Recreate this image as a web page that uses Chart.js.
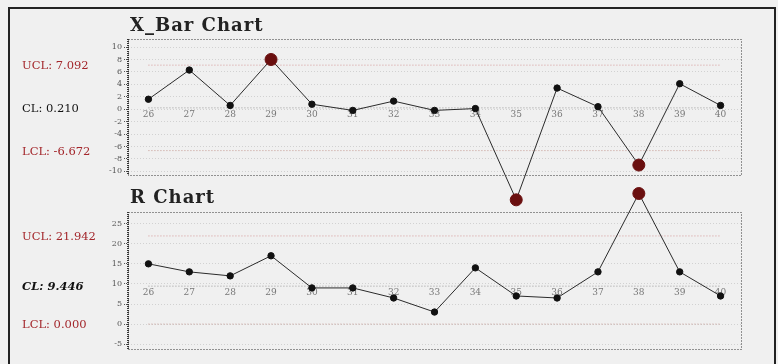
<!DOCTYPE html>
<html>
<head>
<meta charset="utf-8">
<script src="https://cdn.jsdelivr.net/npm/chart.js@4"></script>
<style>
  html, body { margin: 0; padding: 0; background: #f0f0f0; }
  body { width: 778px; height: 364px; position: relative; overflow: hidden; }
  #frame { position: absolute; left: 8px; top: 7px; width: 768px; height: 400px; border: 2px solid #222; box-sizing: border-box; }
  canvas { position: absolute; left: 0; }
  #xbar { top: 0; }
  #range { top: 180px; }
</style>
</head>
<body>
<div id="frame"></div>
<canvas id="xbar" width="778" height="214"></canvas>
<canvas id="range" width="778" height="184"></canvas>
<script>
// subgroups 26..40
var samples = ['26', '27', '28', '29', '30', '31', '32', '33', '34', '35', '36', '37', '38', '39', '40'];

// subgroup means
var xbarValues = [1.6, 6.3, 0.6, 8.0, 0.8, -0.2, 1.3, -0.2, 0.1, -14.6, 3.4, 0.4, -9.0, 4.1, 0.6];
var xbarLimits = [7.092, 0.210, -6.672];   // UCL, CL, LCL
var xbarTicks = [10, 8, 6, 4, 2, 0, -2, -4, -6, -8, -10];

// subgroup ranges
var rangeValues = [15, 13, 12, 17, 9, 9, 6.5, 3, 14, 7, 6.5, 13, 32.5, 13, 7];
var rangeLimits = [21.942, 9.446, 0.000];
var rangeTicks = [25, 20, 15, 10, 5, 0, -5];

var serif = '"DejaVu Serif", "Liberation Serif", serif';
var outColor = '#6a0f0f';
var limitRed = '#a3262b';

function limitLine(value, color) {
    return {
        data: [{ x: samples[0], y: value }, { x: samples[samples.length - 1], y: value }],
        borderColor: color,
        borderWidth: 1,
        borderDash: [1, 2],
        pointRadius: 0,
        order: 1
    };
}

function panel(canvasId, opt) {
    var ucl = opt.limits[0], cl = opt.limits[1], lcl = opt.limits[2];
    function isOut(v) { return v > ucl || v < lcl; }

    var decor = {
        id: 'decor',
        // points beyond the plot box are skipped by the library, draw them anyway
        afterDatasetsDraw: function (chart) {
            var a = chart.chartArea;
            var whole = { left: 0, top: 0, right: chart.width, bottom: chart.height };
            chart.getDatasetMeta(0).data.forEach(function (pt) {
                if (pt.y < a.top || pt.y > a.bottom) pt.draw(chart.ctx, whole);
            });
        },
        // title, limit captions and dotted plot frame
        afterDraw: function (chart) {
            var ctx = chart.ctx, a = chart.chartArea, y = chart.scales.y;
            ctx.save();
            ctx.strokeStyle = '#333';
            ctx.lineWidth = 1;
            ctx.setLineDash([1, 2]);
            ctx.strokeRect(a.left + 0.5, a.top + 0.5, a.right - a.left, a.bottom - a.top);
            ctx.lineWidth = 2;
            ctx.setLineDash([1, 1]);
            ctx.beginPath();
            ctx.moveTo(a.left, a.top);
            ctx.lineTo(a.left, a.bottom);
            ctx.stroke();
            ctx.setLineDash([]);

            ctx.fillStyle = '#222';
            ctx.font = 'bold 18px ' + serif;
            ctx.letterSpacing = '1px';
            ctx.textBaseline = 'alphabetic';
            ctx.fillText(opt.title, 130, opt.titleY);
            ctx.letterSpacing = '0px';

            ctx.textBaseline = 'middle';
            ctx.font = '11.5px ' + serif;
            ctx.fillStyle = limitRed;
            ctx.fillText('UCL: ' + ucl.toFixed(3), 22, y.getPixelForValue(ucl) + 1);
            ctx.fillText('LCL: ' + lcl.toFixed(3), 22, y.getPixelForValue(lcl) + 1);
            ctx.fillStyle = '#111';
            ctx.font = opt.clFont + ' 11.5px ' + serif;
            ctx.fillText('CL: ' + cl.toFixed(3), 22, y.getPixelForValue(cl) + 1);
            ctx.restore();
        }
    };

    return new Chart(document.getElementById(canvasId), {
        type: 'line',
        data: {
            labels: samples,
            datasets: [
                {
                    data: opt.values,
                    borderColor: '#2a2a2a',
                    borderWidth: 1,
                    clip: false,
                    order: 0,
                    pointRadius: function (c) { return isOut(c.raw) ? 6 : 3.2; },
                    pointBackgroundColor: function (c) { return isOut(c.raw) ? outColor : '#111'; },
                    pointBorderColor: function (c) { return isOut(c.raw) ? outColor : '#111'; },
                    pointBorderWidth: 1
                },
                limitLine(ucl, '#d49a9a'),
                limitLine(cl, '#9a9a9a'),
                limitLine(lcl, '#c49a92')
            ]
        },
        options: {
            responsive: false,
            animation: false,
            layout: { padding: { left: 0, right: 37, top: opt.padTop, bottom: opt.padBottom } },
            plugins: { legend: { display: false }, tooltip: { enabled: false } },
            scales: {
                x: {
                    type: 'category',
                    offset: true,
                    position: { y: cl },
                    grid: { display: false, drawTicks: false },
                    border: { display: false },
                    ticks: { color: '#777', padding: 1, maxRotation: 0, autoSkip: false, font: { family: serif, size: 9 } }
                },
                y: {
                    min: opt.min,
                    max: opt.max,
                    afterBuildTicks: function (s) { s.ticks = opt.ticks.map(function (v) { return { value: v }; }); },
                    afterFit: function (s) { s.width = 128; },
                    border: { display: false, dash: [1, 2] },
                    grid: { color: 'rgba(0,0,0,0.13)', tickColor: '#555', tickLength: 4, tickBorderDash: [1, 1] },
                    ticks: { color: '#555', padding: 2, font: { family: serif, size: 8 } }
                }
            }
        },
        plugins: [decor]
    });
}

panel('xbar', {
    title: 'X_Bar Chart', titleY: 31,
    values: xbarValues, limits: xbarLimits, ticks: xbarTicks,
    min: -10.6, max: 11.3, padTop: 39, padBottom: 39, clFont: 'normal'
});

panel('range', {
    title: 'R Chart', titleY: 23,
    values: rangeValues, limits: rangeLimits, ticks: rangeTicks,
    min: -6.2, max: 27.9, padTop: 32, padBottom: 15, clFont: 'bold italic'
});
</script>
</body>
</html>
